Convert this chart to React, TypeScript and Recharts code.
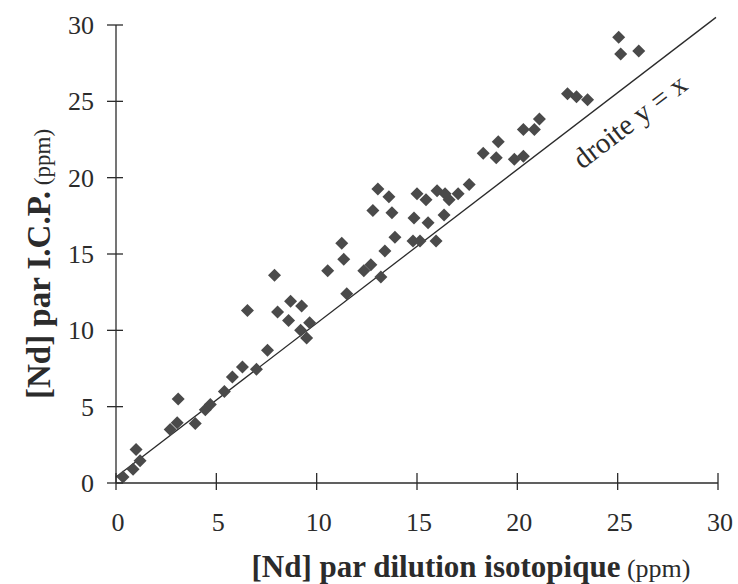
import { ScatterChart, Scatter, XAxis, YAxis, ReferenceLine, ReferenceDot } from 'recharts';

// [Nd] par dilution isotopique (ppm)
const isoX = [
  0.35, 0.85, 1.2, 1.0, 2.7, 3.05, 3.1, 3.95, 4.45, 4.7, 5.4, 5.8, 6.3, 7.0, 6.55, 7.55,
  7.9, 8.05, 8.6, 8.7, 9.25, 9.2, 9.5, 9.65, 10.55, 11.25, 11.35, 11.5, 12.35, 12.7, 12.8,
  13.05, 13.2, 13.4, 13.6, 13.75, 13.9, 14.85, 15.0, 14.8, 15.15, 15.45, 15.55, 15.95, 16.0,
  16.4, 16.6, 16.35, 17.05, 17.6, 18.3, 18.95, 19.05, 19.85, 20.3, 20.3, 20.85, 21.1, 22.5,
  22.95, 23.5, 25.05, 25.15, 26.05,
];
// [Nd] par I.C.P. (ppm)
const icpY = [
  0.4, 0.9, 1.45, 2.2, 3.5, 3.95, 5.5, 3.9, 4.8, 5.15, 6.0, 6.95, 7.6, 7.45, 11.3, 8.7,
  13.6, 11.2, 10.65, 11.9, 11.6, 10.0, 9.5, 10.5, 13.9, 15.7, 14.65, 12.4, 13.9, 14.3, 17.85,
  19.25, 13.5, 15.2, 18.75, 17.7, 16.1, 17.35, 18.95, 15.85, 15.85, 18.55, 17.05, 15.85, 19.15,
  18.95, 18.55, 17.55, 18.95, 19.55, 21.6, 21.3, 22.35, 21.2, 21.4, 23.15, 23.15, 23.85, 25.5,
  25.3, 25.1, 29.2, 28.1, 28.3,
];
const ticks = [0, 5, 10, 15, 20, 25, 30];

const points = isoX.map((x, i) => ({ x, y: icpY[i] }));

const SERIF = '"Liberation Serif", "DejaVu Serif", serif';
const INK = '#2b2b2b';

const Diamond = (p: any) => {
  const { cx, cy } = p;
  const r = 6.5;
  return (
    <polygon
      points={`${cx},${cy - r} ${cx + r},${cy} ${cx},${cy + r} ${cx - r},${cy}`}
      fill="#4a4a4a"
    />
  );
};

const XTick = (p: any) => {
  const { x, y, payload } = p;
  return (
    <g>
      <line x1={x} x2={x} y1={y - 10} y2={y + 7} stroke={INK} strokeWidth={1.3} />
      <text x={x + 2} y={y + 48} textAnchor="middle" fontFamily={SERIF} fontSize={26} fill={INK}>
        {payload.value}
      </text>
    </g>
  );
};

const YTick = (p: any) => {
  const { x, y, payload } = p;
  return (
    <g>
      <line x1={x - 9} x2={x + 7} y1={y} y2={y} stroke={INK} strokeWidth={1.3} />
      <text x={x - 22} y={y + 9} textAnchor="end" fontFamily={SERIF} fontSize={26} fill={INK}>
        {payload.value}
      </text>
    </g>
  );
};

export default function App() {
  return (
    <div style={{ position: 'absolute', left: 0, top: 0, background: '#fff' }}>
      <ScatterChart width={738} height={584} margin={{ top: 25, right: 20, left: 0, bottom: 0 }}>
        <XAxis
          type="number"
          dataKey="x"
          domain={[0, 30]}
          ticks={ticks}
          height={101}
          tickSize={0}
          tickMargin={0}
          tickLine={false}
          tick={<XTick />}
          axisLine={{ stroke: INK, strokeWidth: 1.3 }}
          label={{
            content: () => (
              <text x={471} y={577} textAnchor="middle" fontFamily={SERIF} fill={INK}>
                <tspan fontSize={31} fontWeight="bold">[Nd] par dilution isotopique</tspan>
                <tspan fontSize={26}> (ppm)</tspan>
              </text>
            ),
          }}
        />
        <YAxis
          type="number"
          dataKey="y"
          domain={[0, 30]}
          ticks={ticks}
          width={116}
          tickSize={0}
          tickMargin={0}
          tickLine={false}
          tick={<YTick />}
          axisLine={{ stroke: INK, strokeWidth: 1.3 }}
          label={{
            content: () => (
              <text
                x={50}
                y={264}
                textAnchor="middle"
                fontFamily={SERIF}
                fill={INK}
                transform="rotate(-90 50 264)"
              >
                <tspan fontSize={33} fontWeight="bold">[Nd] par I.C.P.</tspan>
                <tspan fontSize={23}> (ppm)</tspan>
              </text>
            ),
          }}
        />
        <ReferenceLine
          segment={[{ x: 0, y: 0.4 }, { x: 29.9, y: 30.5 }]}
          stroke={INK}
          strokeWidth={1.3}
          ifOverflow="visible"
        />
        <ReferenceDot
          x={25.6}
          y={23.7}
          r={0}
          shape={(p: any) => (
            <text
              x={p.cx}
              y={p.cy}
              textAnchor="middle"
              dominantBaseline="central"
              fontFamily={SERIF}
              fontSize={29}
              fill={INK}
              transform={`rotate(-37.5 ${p.cx} ${p.cy})`}
            >
              droite y = x
            </text>
          )}
        />
        <Scatter data={points} shape={<Diamond />} isAnimationActive={false} />
      </ScatterChart>
    </div>
  );
}
